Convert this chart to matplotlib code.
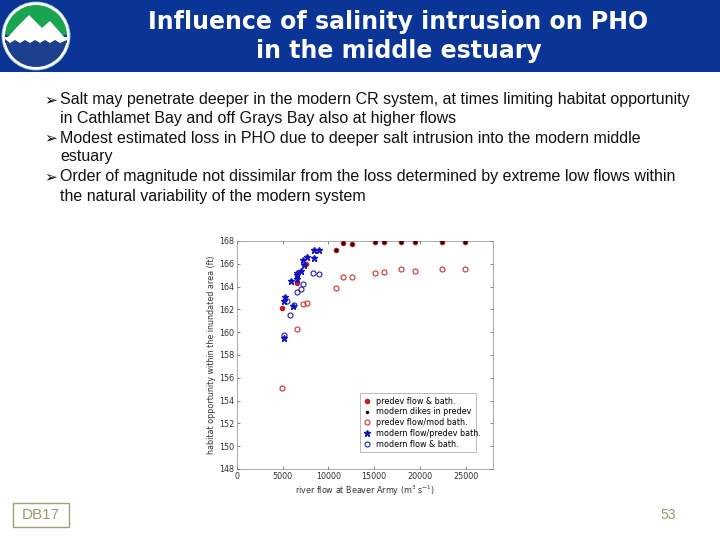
import matplotlib
matplotlib.use("Agg")
import matplotlib.pyplot as plt
from matplotlib.patches import Rectangle, Circle, Polygon, Wedge

# Datos leidos de la figura
# predev flow & bath (rojo relleno)
x_predev = [4880, 6520, 7530, 10880, 11610, 12590, 15070, 16080, 17980, 19430, 22450, 24890]
y_predev = [162.15, 164.3, 165.95, 167.2, 167.8, 167.75, 167.95, 167.95, 167.95, 167.95, 167.95, 167.95]

# modern dikes in predev (negro)
x_dikes = [10880, 11610, 12590, 15070, 16080, 17980, 19430, 22450, 24890]
y_dikes = [167.2, 167.8, 167.75, 167.95, 167.95, 167.95, 167.95, 167.95, 167.95]

# predev flow/mod bath (rojo abierto)
x_predmod = [4880, 6520, 7240, 7610, 10880, 11610, 12590, 15070, 16080, 17980, 19430, 22450, 24890]
y_predmod = [155.1, 160.3, 162.5, 162.6, 163.9, 164.8, 164.8, 165.2, 165.25, 165.5, 165.4, 165.5, 165.5]

# modern flow/predev bath (azul asterisco)
x_modpred = [5130, 5240, 5170, 5900, 6150, 6520, 6520, 6590, 6950, 7240, 7310, 7610, 8440, 8440, 8990]
y_modpred = [159.5, 163.1, 162.7, 164.5, 162.3, 165.0, 164.7, 165.2, 165.4, 166.3, 165.9, 166.6, 166.5, 167.2, 167.2]

# modern flow & bath (azul abierto)
x_modern = [5130, 5500, 5790, 6250, 6520, 6950, 7170, 8260, 8950]
y_modern = [159.75, 162.7, 161.5, 162.35, 163.55, 163.8, 164.2, 165.2, 165.1]

xticks = [0, 5000, 10000, 15000, 20000, 25000]
yticks = list(range(148, 169, 2))

bullets = [
    ("Salt may penetrate deeper in the modern CR system, at times limiting habitat opportunity",
     "in Cathlamet Bay and off Grays Bay also at higher flows"),
    ("Modest estimated loss in PHO due to deeper salt intrusion into the modern middle",
     "estuary"),
    ("Order of magnitude not dissimilar from the loss determined by extreme low flows within",
     "the natural variability of the modern system"),
]

fig = plt.figure(figsize=(7.2, 5.4), dpi=100)
fig.patch.set_facecolor("white")

# Cabecera
fig.patches.append(Rectangle((0, 1 - 72 / 540), 1, 72 / 540, transform=fig.transFigure,
                             facecolor="#0a3597", edgecolor="none", zorder=0))
fig.text(0.5535, 1 - 22 / 540, "Influence of salinity intrusion on PHO", color="white",
         fontsize=17, fontweight="bold", family="DejaVu Sans", ha="center", va="center")
fig.text(0.5535, 1 - 51 / 540, "in the middle estuary", color="white",
         fontsize=17, fontweight="bold", family="DejaVu Sans", ha="center", va="center")

# Logo
lg = fig.add_axes([0, 1 - 72 / 540, 72 / 720, 72 / 540], zorder=5)
lg.set_xlim(0, 72)
lg.set_ylim(0, 72)
lg.axis("off")
lg.add_patch(Circle((36, 36), 34, facecolor="white", edgecolor="#9fd0c0", linewidth=0.6))
lg.add_patch(Wedge((36, 36), 31, 0, 180, facecolor="#19a550", edgecolor="none"))
lg.add_patch(Wedge((36, 36), 31, 180, 360, facecolor="#1c3f8e", edgecolor="none"))
lg.add_patch(Rectangle((5, 29), 62, 8, facecolor="#1c3f8e", edgecolor="none"))
lg.add_patch(Polygon([(6, 33), (18, 46), (29, 57), (37, 49), (42, 44), (50, 51), (58, 42),
                      (66, 33)], facecolor="white", edgecolor="none"))
lg.add_patch(Polygon([(5, 33), (10, 29), (15, 32), (20, 29), (25, 32), (30, 29), (35, 32),
                      (40, 29), (45, 32), (50, 29), (55, 32), (60, 29), (67, 32), (67, 35),
                      (5, 35)], facecolor="white", edgecolor="none"))

# Viñetas
ys = [100, 118, 138, 157, 177, 196]
k = 0
for first, second in bullets:
    fig.text(44 / 720, 1 - ys[k] / 540, "\u27a2", fontsize=11, family="DejaVu Sans",
             color="black", ha="left", va="center")
    fig.text(60 / 720, 1 - ys[k] / 540, first, fontsize=11.5, family="Liberation Sans",
             color="#111111", ha="left", va="center")
    fig.text(60 / 720, 1 - ys[k + 1] / 540, second, fontsize=11.5, family="Liberation Sans",
             color="#111111", ha="left", va="center")
    k += 2

# Grafica
ax = fig.add_axes([237 / 720, 71 / 540, 256 / 720, 228 / 540])
ax.plot(x_predmod, y_predmod, "o", mfc="none", mec="#d03030", ms=3.6, mew=0.8,
        label="predev flow/mod bath.", zorder=3)
ax.plot(x_modern, y_modern, "o", mfc="none", mec="#2020b0", ms=3.6, mew=0.8,
        label="modern flow & bath.", zorder=3)
ax.plot(x_predev, y_predev, "o", color="#c02020", ms=3, label="predev flow & bath.", zorder=4)
ax.plot(x_dikes, y_dikes, ".", color="#300000", ms=3, label="modern dikes in predev", zorder=5)
ax.plot(x_modpred, y_modpred, "*", color="#1515c0", ms=4.5, label="modern flow/predev bath.",
        zorder=4)

ax.set_xlim(0, 28000)
ax.set_ylim(148, 168)
ax.set_xticks(xticks)
ax.set_yticks(yticks)
ax.tick_params(direction="in", top=True, right=True, length=2.5, width=0.5,
               labelsize=5.8, colors="#555555", labelcolor="#333333", pad=2)
for s in ax.spines.values():
    s.set_linewidth(0.5)
    s.set_color("#888888")
ax.set_xlabel("river flow at Beaver Army (m$^3$ s$^{-1}$)", fontsize=5.8, color="#333333",
              labelpad=2)
ax.set_ylabel("habitat opportunity within the inundated area (ft)", fontsize=5.8,
              color="#333333", labelpad=2)

h, l = ax.get_legend_handles_labels()
order = [2, 3, 0, 4, 1]
leg = ax.legend([h[i] for i in order], [l[i] for i in order], loc="lower left",
                bbox_to_anchor=(0.465, 0.057, 0.484, 0.25), mode="expand", fontsize=5.8,
                frameon=True, fancybox=False, edgecolor="#888888", handlelength=1,
                handletextpad=0.6, borderpad=0.4, labelspacing=0.22)
leg.get_frame().set_linewidth(0.5)

# Pie de pagina
fig.patches.append(Rectangle((13 / 720, 1 - 527 / 540), 56 / 720, 24 / 540,
                             transform=fig.transFigure, facecolor="none",
                             edgecolor="#a0a070", linewidth=1))
fig.text(41 / 720, 1 - 515 / 540, "DB17", fontsize=11, family="Liberation Sans",
         color="#9a9a6a", ha="center", va="center")
fig.text(668 / 720, 1 - 515 / 540, "53", fontsize=10, family="Liberation Sans",
         color="#9a9a6a", ha="center", va="center")

fig.savefig("out.png", dpi=100)
